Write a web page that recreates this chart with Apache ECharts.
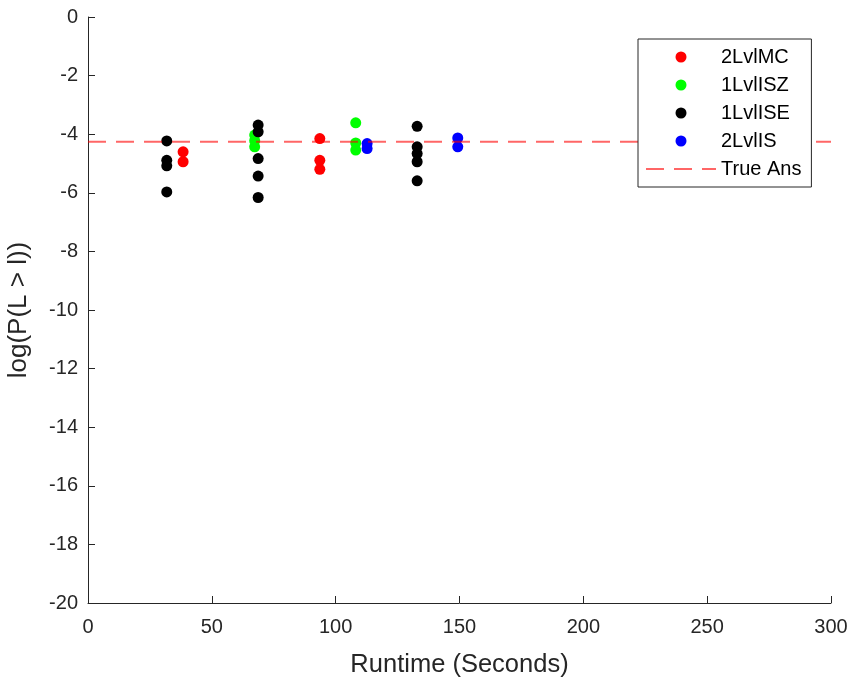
<!DOCTYPE html>
<html>
<head>
<meta charset="utf-8">
<script src="https://cdn.jsdelivr.net/npm/echarts@6/dist/echarts.min.js"></script>
<style>
html,body{margin:0;padding:0;background:#fff;}
#chart{width:851px;height:679px;}
</style>
</head>
<body>
<div id="chart"></div>
<script>
// Data
const seriesNames = ['2LvlMC', '1LvlISZ', '1LvlISE', '2LvlIS', 'True Ans'];
const data2LvlMC = [[38.4, -4.60], [38.4, -4.94], [93.6, -4.15], [93.6, -4.89], [93.6, -5.20]];
const data1LvlISZ = [[67.3, -4.03], [67.3, -4.22], [67.3, -4.43], [108.1, -3.61], [108.1, -4.30], [108.1, -4.54]];
const data1LvlISE = [[31.8, -4.23], [31.8, -4.89], [31.8, -5.08], [31.8, -5.97],
  [68.7, -3.69], [68.7, -3.92], [68.7, -4.83], [68.7, -5.43], [68.7, -6.16],
  [132.9, -3.73], [132.9, -4.43], [132.9, -4.66], [132.9, -4.94], [132.9, -5.59]];
const data2LvlIS = [[112.7, -4.32], [112.7, -4.49], [149.3, -4.13], [149.3, -4.43]];
const trueAns = -4.26;
const xRange = [0, 300];
const yRange = [-20, 0];

const axisColor = '#262626';
const font = 'Liberation Sans, Arial, Helvetica, sans-serif';

const chart = echarts.init(document.getElementById('chart'), null, {renderer: 'canvas'});
const scatter = (name, data, color) => ({
  name, type: 'scatter', data, symbol: 'circle', symbolSize: 11,
  itemStyle: {color, opacity: 1}, animation: false
});
chart.setOption({
  backgroundColor: '#fff',
  animation: false,
  grid: {left: 88, right: 20, top: 17, bottom: 76, containLabel: false, outerBoundsMode: 'none'},
  legend: {
    orient: 'vertical', left: 638, top: 39,
    padding: [8, 10, 8, 7], itemWidth: 70, itemHeight: 11, itemGap: 8,
    borderColor: axisColor, borderWidth: 1, backgroundColor: '#fff',
    textStyle: {fontSize: 20, fontFamily: font, color: '#000'},
    data: [
      {name: seriesNames[0], icon: 'circle'},
      {name: seriesNames[1], icon: 'circle'},
      {name: seriesNames[2], icon: 'circle'},
      {name: seriesNames[3], icon: 'circle'},
      {name: seriesNames[4], itemStyle: {opacity: 0}}
    ]
  },
  xAxis: {
    type: 'value', min: xRange[0], max: xRange[1], interval: 50,
    name: 'Runtime (Seconds)', nameLocation: 'middle', nameGap: 49,
    nameTextStyle: {fontSize: 25.5, fontFamily: font, color: axisColor},
    axisLine: {show: true, onZero: false, lineStyle: {color: axisColor, width: 1}},
    axisTick: {show: true, inside: true, length: 7, lineStyle: {color: axisColor}},
    axisLabel: {fontSize: 20, fontFamily: font, color: axisColor, margin: 14},
    splitLine: {show: false}
  },
  yAxis: {
    type: 'value', min: yRange[0], max: yRange[1], interval: 2,
    name: 'log(P(L > l))', nameLocation: 'middle', nameGap: 56,
    nameTextStyle: {fontSize: 26, fontFamily: font, color: axisColor},
    axisLine: {show: true, onZero: false, lineStyle: {color: axisColor, width: 1}},
    axisTick: {show: true, inside: true, length: 7, lineStyle: {color: axisColor}},
    axisLabel: {fontSize: 20, fontFamily: font, color: axisColor, margin: 10},
    splitLine: {show: false}
  },
  series: [
    scatter(seriesNames[0], data2LvlMC, '#ff0000'),
    scatter(seriesNames[1], data1LvlISZ, '#00ff00'),
    scatter(seriesNames[2], data1LvlISE, '#000000'),
    scatter(seriesNames[3], data2LvlIS, '#0000ff'),
    {
      name: seriesNames[4], type: 'line',
      data: [[xRange[0], trueAns], [xRange[1], trueAns]],
      symbol: 'none', showSymbol: false,
      lineStyle: {color: 'rgba(255,0,0,0.6)', width: 2, type: [18, 10]},
      itemStyle: {color: 'rgba(255,0,0,0.6)'},
      animation: false
    }
  ]
});
</script>
</body>
</html>
